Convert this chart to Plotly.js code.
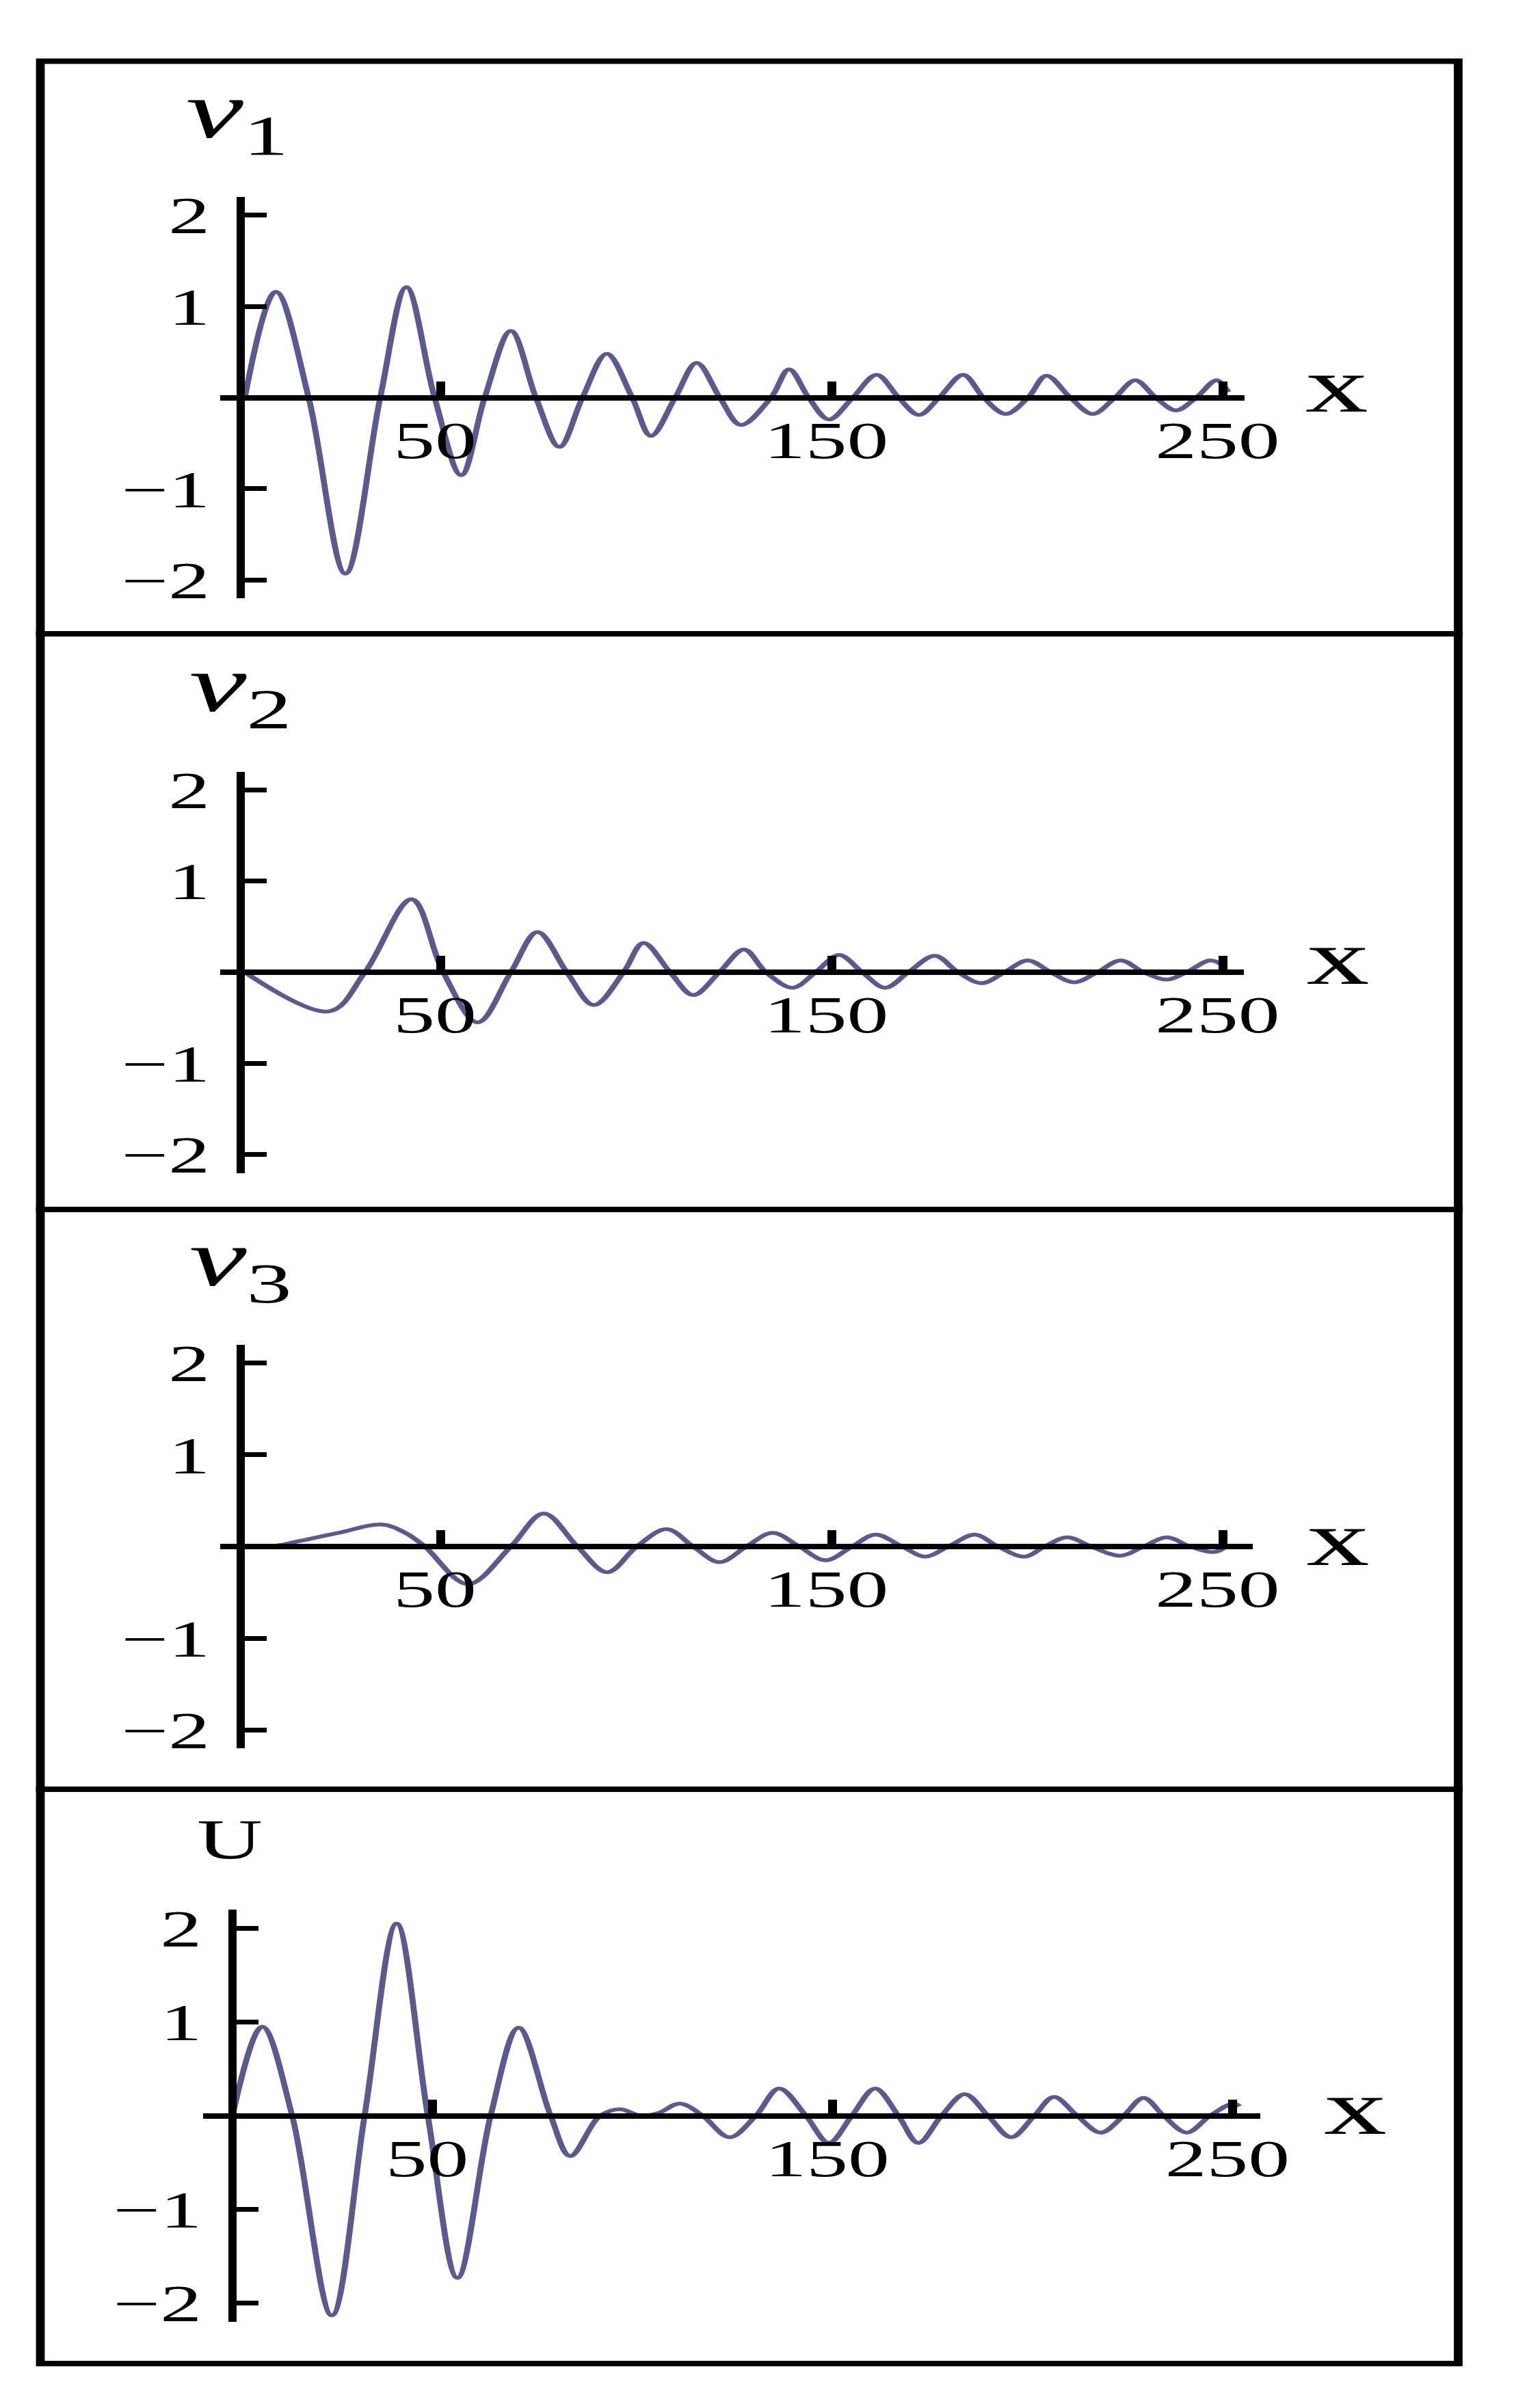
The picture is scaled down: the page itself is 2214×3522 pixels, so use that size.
<!DOCTYPE html>
<html>
<head>
<meta charset="utf-8">
<script src="https://cdn.plot.ly/plotly-3.0.1.min.js"></script>
<style>
  html, body { margin: 0; padding: 0; background: #ffffff; overflow: hidden; }
  #wrap { width: 2214px; height: 3522px; overflow: hidden; }
  #plot { width: 1384px; height: 3522px; transform: scaleX(1.6); transform-origin: 0 0; }
</style>
</head>
<body>
<div id="wrap"><div id="plot"></div></div>
<script>
// ---------------- data ----------------
const v1X = [0, 7.9, 16.3, 25.7, 34.6, 41.3, 48.5, 55.3, 61.3, 68, 74.4, 80.4, 86.3, 92.5, 99, 103.8, 110, 115.5, 121.4, 126.8, 134.5, 139.1, 144.1, 149.3, 155.4, 161.5, 167.1, 172.3, 177.5, 183.6, 188.8, 194.5, 200.2, 204.9, 211, 216.7, 222.4, 227.6, 232.8, 238, 243.2, 248.4, 251.4];
const v1Y = [0, 1.16, 0, -1.93, 0, 1.21, 0, -0.85, 0, 0.73, 0, -0.54, 0, 0.48, 0, -0.42, 0, 0.38, 0, -0.30, 0, 0.31, 0, -0.24, 0, 0.25, 0, -0.19, 0, 0.25, 0, -0.18, 0, 0.24, 0, -0.18, 0, 0.19, 0, -0.14, 0, 0.19, 0.06];

const v2X = [0, 21.4, 30.7, 42.6, 50.7, 59.5, 68, 74.8, 82.3, 89.2, 96.8, 101.9, 108.7, 114.6, 121.3, 127.6, 133.2, 140, 145.9, 151.9, 157.8, 163.7, 169.6, 176.4, 182.3, 188.3, 194.2, 200.1, 206, 212, 217.9, 223.9, 229.7, 235.7, 240.7, 246.7, 249.5];
const v2Y = [0, -0.43, 0, 0.80, 0, -0.55, 0, 0.44, 0, -0.36, 0, 0.32, 0, -0.25, 0, 0.25, 0, -0.17, 0, 0.19, 0, -0.17, 0, 0.18, 0, -0.12, 0, 0.13, 0, -0.11, 0, 0.13, 0, -0.08, 0, 0.13, 0.09];

const v3X = [0, 8, 14, 24, 35, 41, 46, 57, 68, 76.4, 85, 92.6, 100.2, 107.8, 114.6, 121.3, 128.2, 134.9, 141.7, 148.4, 155.2, 161.2, 168, 173.9, 179.8, 186.6, 192.5, 199.3, 204.4, 210.3, 216.3, 223.8, 229.7, 235.7, 241.6, 247.6, 250.2];
const v3Y = [0, 0.01, 0.06, 0.15, 0.24, 0.15, 0, -0.41, 0, 0.36, 0, -0.28, 0, 0.19, 0, -0.17, 0, 0.15, 0, -0.15, 0, 0.13, 0, -0.11, 0, 0.13, 0, -0.11, 0, 0.10, 0, -0.10, 0, 0.10, 0, -0.06, -0.02];

const uX = [0, 7.4, 14.9, 24.8, 33, 41, 48.8, 56.2, 64.5, 71.5, 79.5, 84.4, 91.9, 96.8, 102, 106.5, 111.8, 117.5, 124.2, 130.8, 136.6, 143.3, 149, 154.8, 160.6, 166.4, 171.4, 177.2, 183, 188.8, 194.6, 200.4, 205.3, 211.1, 217, 222.7, 227.7, 232.7, 238.5, 244.3, 250.1, 251.7];
const uY = [0, 0.95, 0, -2.13, 0, 2.05, 0, -1.73, 0, 0.94, 0, -0.43, 0, 0.07, 0.0, 0.03, 0.13, 0, -0.23, 0, 0.29, 0, -0.29, 0, 0.29, 0, -0.29, 0, 0.23, 0, -0.23, 0, 0.20, 0, -0.18, 0, 0.19, 0, -0.18, 0, 0.13, 0.1];

const panelLabels = ['<i>v</i><sub>1</sub>', '<i>v</i><sub>2</sub>', '<i>v</i><sub>3</sub>', 'U'];
const xAxisLabel = 'x';
const xTickVals = [50, 150, 250];
const yTickVals = [-2, -1, 1, 2];
const yRange = [-2.2, 2.2];

// ---------------- layout geometry (full-size picture pixels) ----------------
const FULL_W = 2214, FULL_H = 3522, SX = 1.6;
const W = FULL_W / SX;
const geo = [
  { x: v1X, y: v1Y, top: 89.5, bottom: 927, xdom: [322, 1820], x0: 358, ppu: 5.72, ydom: [288, 875], yaxX: 352, lab: [268, 94, 118], xl: [1955, 563] },
  { x: v2X, y: v2Y, top: 927, bottom: 1769, xdom: [322, 1819], x0: 358, ppu: 5.72, ydom: [1128.5, 1715.5], yaxX: 352, lab: [273, 933, 118], xl: [1956, 1401] },
  { x: v3X, y: v3Y, top: 1769, bottom: 2617, xdom: [322, 1832], x0: 358, ppu: 5.72, ydom: [1967, 2557], yaxX: 352, lab: [273, 1773, 118], xl: [1956, 2250] },
  { x: uX,  y: uY,  top: 2617, bottom: 3457, xdom: [297, 1843], x0: 340, ppu: 5.85, ydom: [2793, 3396], yaxX: 340, lab: [284, 2642, 83], xl: [1982, 3082] }
];
const BORDER_L = 59, BORDER_R = 2132;

const px = X => X / FULL_W;          // paper x from full-size pixel
const py = Y => 1 - Y / FULL_H;      // paper y from full-size pixel

const lineColor = '#5a5a90';
const tickFont = { family: 'Liberation Serif, Times New Roman, serif', size: 76, color: '#000000' };

const traces = [];
const layout = {
  width: W, height: FULL_H,
  margin: { l: 0, r: 0, t: 0, b: 0, pad: 0 },
  paper_bgcolor: '#ffffff', plot_bgcolor: 'rgba(0,0,0,0)',
  showlegend: false,
  shapes: [], annotations: []
};

geo.forEach((g, i) => {
  const n = i === 0 ? '' : String(i + 1);
  traces.push({
    x: g.x, y: g.y, type: 'scatter', mode: 'lines',
    line: { color: lineColor, width: 5.5, shape: 'spline', smoothing: 1 },
    xaxis: 'x' + n, yaxis: 'y' + n, hoverinfo: 'skip'
  });
  const zeroY = (g.ydom[0] + g.ydom[1]) / 2;
  layout['xaxis' + n] = {
    domain: [px(g.xdom[0]), px(g.xdom[1])],
    range: [(g.xdom[0] - g.x0) / g.ppu, (g.xdom[1] - g.x0) / g.ppu],
    anchor: 'free', position: py(zeroY), side: 'bottom',
    showline: true, linecolor: '#000000', linewidth: 8,
    showgrid: false, zeroline: false,
    ticks: 'inside', ticklen: 20, tickwidth: 8, tickcolor: '#000000',
    tickmode: 'array', tickvals: xTickVals,
    tickfont: tickFont, ticklabelstandoff: -7, ticklabelshift: -5,
    fixedrange: true, layer: 'above traces'
  };
  layout['yaxis' + n] = {
    domain: [py(g.ydom[1]), py(g.ydom[0])],
    range: yRange,
    anchor: 'free', position: px(g.yaxX), side: 'left',
    showline: true, linecolor: '#000000', linewidth: 8,
    showgrid: false, zeroline: false,
    ticks: 'inside', ticklen: 20, tickwidth: 7, tickcolor: '#000000',
    tickmode: 'array', tickvals: yTickVals,
    tickfont: tickFont, ticklabelstandoff: 9,
    fixedrange: true, layer: 'above traces'
  };
  // panel frame
  layout.shapes.push({
    type: 'rect', xref: 'paper', yref: 'paper',
    x0: px(BORDER_L), x1: px(BORDER_R), y0: py(g.bottom), y1: py(g.top),
    line: { color: '#000000', width: 8 }, fillcolor: 'rgba(0,0,0,0)', layer: 'above'
  });
  // vertical axis label
  layout.annotations.push({
    xref: 'paper', yref: 'paper', x: px(g.lab[0]), y: py(g.lab[1]),
    xanchor: 'left', yanchor: 'top', showarrow: false,
    text: panelLabels[i],
    font: { family: 'Liberation Serif, Times New Roman, serif', size: g.lab[2], color: '#000000' }
  });
  // horizontal axis label
  layout.annotations.push({
    xref: 'paper', yref: 'paper', x: px(g.xl[0]), y: py(g.xl[1]),
    xanchor: 'center', yanchor: 'middle', showarrow: false,
    text: xAxisLabel,
    font: { family: 'Liberation Serif, Times New Roman, serif', size: 115, color: '#000000' }
  });
});

Plotly.newPlot('plot', traces, layout, { staticPlot: true, displayModeBar: false });
</script>
</body>
</html>
